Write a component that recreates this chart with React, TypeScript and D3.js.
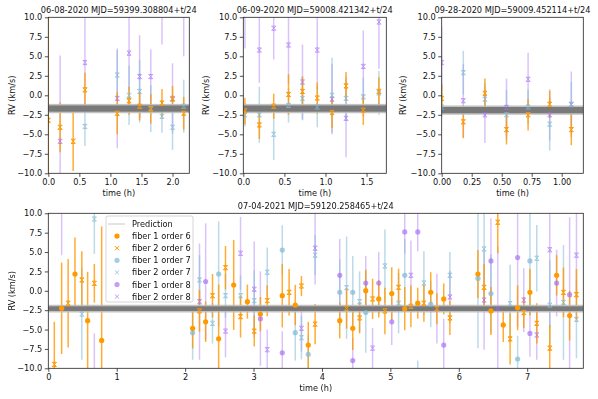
import React, { useEffect, useRef } from 'react';
import * as d3 from 'd3';

// [time (h), RV (km/s), error]
type Pt = [number, number, number];

const Y_TICKS = [-10, -7.5, -5, -2.5, 0, 2.5, 5, 7.5, 10];

// ---- 06-08-2020
const p1Title = '06-08-2020 MJD=59399.308804+t/24';
const p1XTicks = [0, 0.5, 1, 1.5, 2];
const p1Pred = -1.7;
const p1F2o6: Pt[] = [
  [0.0, -3.2, 14], [0.19, -4.1, 3.2], [0.40, -5.9, 3.8], [0.59, 0.7, 2.2], [1.11, -2.3, 2.7],
  [1.30, -0.7, 1.8], [1.47, -1.4, 1.8], [1.65, -1.75, 1.9], [1.83, -1.0, 1.8], [2.0, -0.5, 1.7], [2.18, -2.3, 2.1],
];
const p1F2o7: Pt[] = [
  [0.59, -4.0, 2.5], [1.11, 2.6, 3.2], [1.30, 0.0, 3.8], [1.47, 0.5, 4.0], [1.65, -1.7, 3.0],
  [1.83, -2.7, 2.1], [2.0, -4.1, 2.9], [2.18, -1.4, 3.4],
];
const p1F2o8: Pt[] = [
  [0.19, -5.9, 11], [0.59, 4.2, 6.5], [1.11, -0.4, 6.4], [1.30, 5.4, 4.8], [1.47, 2.4, 5.3],
  [1.65, 2.4, 3.5], [1.83, 13, 6.5], [2.0, -0.4, 4.5], [2.18, 13, 8],
];

// ---- 06-09-2020
const p2Title = '06-09-2020 MJD=59008.421342+t/24';
const p2XTicks = [0, 0.5, 1, 1.5];
const p2Pred = -1.7;
const p2F2o6: Pt[] = [
  [0.02, -2.0, 1.7], [0.195, -3.8, 1.8], [0.37, -1.4, 1.6], [0.55, 0.1, 2.6], [0.72, 0.5, 1.9],
  [0.90, -0.35, 2.0], [1.08, -2.2, 2.0], [1.25, 1.2, 1.8], [1.46, -1.9, 1.9], [1.65, 0.5, 1.8],
];
const p2F2o7: Pt[] = [
  [0.02, -2.5, 1.5], [0.195, -2.5, 3.6], [0.37, -5.0, 3.3], [0.55, -1.3, 2.2], [0.72, -0.4, 2.8],
  [0.90, -1.5, 2.6], [1.08, 0.0, 4.8], [1.25, -0.4, 2.8], [1.46, -0.2, 2.5], [1.65, 0.3, 2.8],
];
const p2F2o8: Pt[] = [
  [0.02, 12, 6], [0.195, 5.8, 4.2], [0.37, 8.6, 4.0], [0.55, 6.45, 5], [0.72, 1.7, 4.8],
  [0.90, 5.8, 5], [1.08, -0.5, 4.5], [1.25, -2.95, 5.0], [1.46, 3.7, 4.6], [1.65, 9.4, 6],
];

// ---- 09-28-2020
const p3Title = '09-28-2020 MJD=59009.452114+t/24';
const p3XTicks = [0, 0.25, 0.5, 0.75, 1];
const p3Pred = -1.9;
const p3F2o6: Pt[] = [
  [0.0, -0.4, 1.8], [0.18, -3.4, 2.1], [0.36, 0.25, 1.9], [0.54, -4.4, 1.9], [0.72, -2.5, 2.0],
  [0.90, -1.15, 1.7], [1.08, -4.4, 2.0],
];
const p3F2o7: Pt[] = [
  [0.0, -1.5, 1.3], [0.18, 2.9, 2.8], [0.36, -0.5, 2.1], [0.54, -2.5, 3.2], [0.72, -1.5, 2.2],
  [0.90, -3.7, 3.4], [1.08, -1.2, 2.9],
];
const p3F2o8: Pt[] = [
  [0.0, 4.2, 4.6], [0.18, -0.7, 4.7], [0.36, -2.5, 3.6], [0.54, -1.55, 3.7], [0.72, 2.05, 3.4],
  [0.90, -2.5, 3.3], [1.08, -1.15, 4.2],
];

// ---- 07-04-2021
const p4Title = '07-04-2021 MJD=59120.258465+t/24';
const p4XTicks = [0, 1, 2, 3, 4, 5, 6, 7];
const p4Pred = -2.3;
const p4F1o6: Pt[] = [
  [0.195, -2.26, 5.9], [0.39, 2.17, 4.7], [0.575, -3.85, 6.3], [0.78, -6.4, 14.7],
  [2.11, -4.84, 2.6], [2.30, -4.0, 2.6], [2.49, -6.2, 7], [2.71, 0.75, 5.8], [2.91, -1.4, 2.2],
  [3.10, -3.0, 2.2], [3.42, -0.63, 4.1], [3.61, -1.83, 2.6], [3.80, -7.0, 3],
  [4.26, -3.85, 2.3], [4.45, -4.84, 2.8], [4.64, 0.02, 2.7], [4.83, -1.05, 2.4], [5.02, -0.36, 3.4],
  [5.21, -2.3, 2.8], [5.40, -1.6, 2.0], [5.59, -0.2, 2.6], [5.78, -1.05, 2.0],
  [6.28, 2.17, 3.1], [6.47, -2.6, 3.1], [6.65, -4.4, 2.2], [6.86, -2.2, 2.9], [7.04, -0.2, 3.0],
  [7.43, 2.0, 2.6], [7.62, -3.2, 3.2],
];
const p4F2o6: Pt[] = [
  [0.088, -9.5, 5.5], [0.29, -1.6, 5.7], [0.49, 1.4, 3.7], [0.673, 0.97, 2.5],
  [2.21, -2.6, 2.7], [2.40, -0.63, 2.8], [2.59, 2.98, 2.8], [2.81, -3.34, 2.7], [3.01, -5.2, 2.0],
  [3.20, -1.27, 2.0], [3.52, -0.2, 3.0], [3.70, 0.62, 1.3], [3.90, -4.3, 2.6],
  [4.36, -2.26, 2.6], [4.55, -3.5, 2.0], [4.74, -1.05, 2.6], [4.92, -2.6, 3.0], [5.12, 0.45, 2.4],
  [5.30, -2.0, 2.7], [5.49, -1.6, 2.4], [5.68, -2.3, 2.0], [5.87, -3.5, 2.2],
  [6.37, 0.45, 3.0], [6.57, 8.84, 4.0], [6.75, -6.2, 3.3], [6.95, -2.8, 2.0], [7.14, -4.2, 2.6],
  [7.33, -7.4, 3.0], [7.53, -0.2, 3.2], [7.72, -0.5, 3.3],
];
const p4F1o7: Pt[] = [
  [2.11, -5.4, 3.5], [2.49, 2.17, 6.8], [3.42, 5.26, 3.2], [3.61, -5.4, 3.6], [3.80, -8.2, 2.5],
  [4.26, -0.2, 4.3], [4.45, -0.2, 4.7], [4.64, -2.8, 5.2], [5.21, 2.0, 4.7], [5.40, -12, 3],
  [5.59, -1.7, 3.0], [6.28, 1.6, 9], [6.47, -0.36, 5.1], [6.86, -8.8, 3], [7.04, 3.85, 6.8],
];
const p4F2o7: Pt[] = [
  [0.49, -3.0, 5.9], [0.673, 9.26, 4.5], [2.21, 1.4, 3.2], [2.40, -4.2, 2.6], [2.59, -0.63, 2.8],
  [2.81, -0.63, 2.6], [3.01, -1.27, 3.9], [3.20, 2.4, 3.2], [3.70, -6.05, 2.8], [3.90, 4.6, 2.6],
  [4.36, 0.4, 6.6], [4.55, -1.4, 3.9], [4.92, 3.2, 4.7], [5.12, -1.6, 3.9], [5.49, 1.0, 4.1],
  [5.87, 2.0, 3.0], [6.37, 5.4, 7.3], [6.75, -1.65, 5], [7.14, 4.2, 4.3], [7.33, -1.85, 5.8],
  [7.53, -1.5, 7.4], [7.72, -3.7, 5],
];
const p4F1o8: Pt[] = [
  [2.30, 1.2, 7.5], [3.10, -3.6, 6.1], [3.42, -8.0, 2.8], [4.26, 2.0, 4.7], [4.45, -9.0, 2.9],
  [4.64, 1.0, 3.5], [4.83, 1.0, 4.0], [5.02, -4.0, 3.0], [5.21, 7.6, 2.8], [5.40, 7.6, 2.5],
  [5.78, -7.0, 3.4], [6.47, 3.85, 5.5], [6.86, 4.3, 9], [7.04, -5.5, 3], [7.43, 1.0, 4.3],
  [7.62, -0.5, 10],
];
const p4F2o8: Pt[] = [
  [0.195, 12, 7.4], [0.673, -12, 6.5], [2.21, -1.4, 7.5], [2.59, -5.2, 3.4], [2.81, 4.84, 4.7],
  [3.01, 0.2, 6.2], [3.20, -7.6, 2.6], [3.70, -4.84, 3.0], [3.90, 5.5, 4.7], [4.74, -7.4, 2.6],
  [5.30, 2.0, 4.5], [5.68, -2.3, 4.5], [5.87, -0.8, 3.4], [6.37, -1.2, 6.4], [6.57, -2.3, 8],
  [6.95, -1.2, 4.1], [7.14, -5.7, 3.2], [7.33, 5.3, 10], [7.72, 4.6, 5.5],
];

const LEGEND_LABELS = [
  'Prediction', 'fiber 1 order 6', 'fiber 2 order 6', 'fiber 1 order 7',
  'fiber 2 order 7', 'fiber 1 order 8', 'fiber 2 order 8',
];

const STYLE: Record<string, { color: string; bar: number; mark: number }> = {
  o6: { color: '#ff9900', bar: 0.8, mark: 1 },
  o7: { color: '#86bcd8', bar: 0.55, mark: 0.75 },
  o8: { color: '#a56cf5', bar: 0.4, mark: 0.65 },
};

type Series = { order: string; fiber: number; data: Pt[] };

const PANELS = [
  {
    title: p1Title, xTicks: p1XTicks, fmt: '.1f', xMax: 2.27, pred: p1Pred,
    box: [48.3, 17.3, 189.3, 173.3], ylabX: 12,
    series: [
      { order: 'o8', fiber: 2, data: p1F2o8 },
      { order: 'o7', fiber: 2, data: p1F2o7 },
      { order: 'o6', fiber: 2, data: p1F2o6 },
    ] as Series[],
  },
  {
    title: p2Title, xTicks: p2XTicks, fmt: '.1f', xMax: 1.74, pred: p2Pred,
    box: [243.3, 17.3, 386.3, 173.3], ylabX: 206,
    series: [
      { order: 'o8', fiber: 2, data: p2F2o8 },
      { order: 'o7', fiber: 2, data: p2F2o7 },
      { order: 'o6', fiber: 2, data: p2F2o6 },
    ] as Series[],
  },
  {
    title: p3Title, xTicks: p3XTicks, fmt: '.2f', xMax: 1.18, pred: p3Pred,
    box: [441.7, 17.3, 583.3, 173.3], ylabX: 403,
    series: [
      { order: 'o8', fiber: 2, data: p3F2o8 },
      { order: 'o7', fiber: 2, data: p3F2o7 },
      { order: 'o6', fiber: 2, data: p3F2o6 },
    ] as Series[],
  },
  {
    title: p4Title, xTicks: p4XTicks, fmt: 'd', xMax: 7.82, pred: p4Pred,
    box: [48.3, 213.3, 583.3, 368.3], ylabX: 12,
    series: [
      { order: 'o8', fiber: 1, data: p4F1o8 },
      { order: 'o8', fiber: 2, data: p4F2o8 },
      { order: 'o7', fiber: 1, data: p4F1o7 },
      { order: 'o7', fiber: 2, data: p4F2o7 },
      { order: 'o6', fiber: 1, data: p4F1o6 },
      { order: 'o6', fiber: 2, data: p4F2o6 },
    ] as Series[],
    legend: true,
  },
];

const FONT = 'DejaVu Sans';
const FS = 8.2;

function xMarker(s: number) {
  return `M${-s},${-s}L${s},${s}M${-s},${s}L${s},${-s}M${-s},${-s}H${s}M${-s},${s}H${s}`;
}

export default function App() {
  const svgRef = useRef<SVGSVGElement>(null);

  useEffect(() => {
    const svg = d3.select(svgRef.current);
    svg.selectAll('*').remove();
    svg.append('rect').attr('width', 598).attr('height', 399).attr('fill', '#fff');

    PANELS.forEach((p, pi) => {
      const [x0, y0, x1, y1] = p.box;
      const x = d3.scaleLinear().domain([0, p.xMax]).range([x0, x1]);
      const y = d3.scaleLinear().domain([-10, 10]).range([y1, y0]);
      const g = svg.append('g');

      const clipId = `clip${pi}`;
      g.append('clipPath').attr('id', clipId)
        .append('rect').attr('x', x0).attr('y', y0).attr('width', x1 - x0).attr('height', y1 - y0);

      const plot = g.append('g').attr('clip-path', `url(#${clipId})`);

      // error bars
      p.series.forEach(s => {
        const st = STYLE[s.order];
        plot.append('g').selectAll('line').data(s.data).join('line')
          .attr('x1', d => x(d[0])).attr('x2', d => x(d[0]))
          .attr('y1', d => y(d[1] - d[2])).attr('y2', d => y(d[1] + d[2]))
          .attr('stroke', st.color).attr('stroke-width', 1.5).attr('opacity', st.bar);
      });

      // prediction band
      const outer = pi === 3 ? 0.5 : 0.6;
      const inner = pi === 3 ? 0.3 : 0.4;
      plot.append('rect')
        .attr('x', x0).attr('width', x1 - x0)
        .attr('y', y(p.pred + outer)).attr('height', y(p.pred - outer) - y(p.pred + outer))
        .attr('fill', '#bdbdbd').attr('opacity', 0.9);
      plot.append('rect')
        .attr('x', x0).attr('width', x1 - x0)
        .attr('y', y(p.pred + inner)).attr('height', y(p.pred - inner) - y(p.pred + inner))
        .attr('fill', '#7a7a7a');

      // markers
      p.series.forEach(s => {
        const st = STYLE[s.order];
        const mg = plot.append('g').attr('opacity', st.mark);
        if (s.fiber === 1) {
          mg.selectAll('circle').data(s.data).join('circle')
            .attr('cx', d => x(d[0])).attr('cy', d => y(d[1])).attr('r', 2.6)
            .attr('fill', st.color);
        } else {
          mg.selectAll('path').data(s.data).join('path')
            .attr('transform', d => `translate(${x(d[0])},${y(d[1])})`)
            .attr('d', xMarker(2.1))
            .attr('fill', 'none').attr('stroke', st.color).attr('stroke-width', 1);
        }
      });

      // axes
      const fmt = d3.format(p.fmt);
      const xAxis = g.append('g').attr('transform', `translate(0,${y1})`)
        .call(d3.axisBottom(x).tickValues(p.xTicks).tickFormat(d => fmt(d as number)).tickSize(3.5).tickPadding(2.5));
      const yAxis = g.append('g').attr('transform', `translate(${x0},0)`)
        .call(d3.axisLeft(y).tickValues(Y_TICKS).tickFormat(d => d3.format('.1f')(d as number)).tickSize(3.5).tickPadding(2.5));
      [xAxis, yAxis].forEach(a => {
        a.select('.domain').remove();
        a.selectAll('line').attr('stroke', '#222').attr('stroke-width', 0.8);
        a.selectAll('text').attr('font-family', FONT).attr('font-size', FS).attr('fill', '#111');
      });

      g.append('rect').attr('x', x0).attr('y', y0).attr('width', x1 - x0).attr('height', y1 - y0)
        .attr('fill', 'none').attr('stroke', '#222').attr('stroke-width', 0.8);

      g.append('text').attr('x', (x0 + x1) / 2).attr('y', y0 - 4)
        .attr('text-anchor', 'middle').attr('font-family', FONT).attr('font-size', FS).attr('fill', '#111')
        .text(p.title);
      g.append('text').attr('x', (x0 + x1) / 2).attr('y', y1 + 22.5)
        .attr('text-anchor', 'middle').attr('font-family', FONT).attr('font-size', FS).attr('fill', '#111')
        .text('time (h)');
      g.append('text')
        .attr('transform', `translate(${p.ylabX + 3},${(y0 + y1) / 2}) rotate(-90)`)
        .attr('text-anchor', 'middle').attr('font-family', FONT).attr('font-size', FS).attr('fill', '#111')
        .text('RV (km/s)');

      if (p.legend) {
        const lx = 106, ly = 216;
        const lg = g.append('g');
        lg.append('rect').attr('x', lx).attr('y', ly).attr('width', 87).attr('height', 86)
          .attr('rx', 2).attr('fill', '#fff').attr('fill-opacity', 0.8)
          .attr('stroke', '#ccc').attr('stroke-width', 0.8);
        const keys = [null, ['o6', 1], ['o6', 2], ['o7', 1], ['o7', 2], ['o8', 1], ['o8', 2]];
        LEGEND_LABELS.forEach((lab, i) => {
          const cy = ly + 8 + i * 12.1;
          const k = keys[i] as [string, number] | null;
          if (!k) {
            lg.append('line').attr('x1', lx + 2).attr('x2', lx + 19).attr('y1', cy).attr('y2', cy)
              .attr('stroke', '#c8c8c8').attr('stroke-width', 1);
          } else {
            const st = STYLE[k[0]];
            if (k[1] === 1) {
              lg.append('circle').attr('cx', lx + 11).attr('cy', cy).attr('r', 2.6)
                .attr('fill', st.color).attr('opacity', st.mark);
            } else {
              lg.append('path').attr('transform', `translate(${lx + 11},${cy})`)
                .attr('d', `M-2.1,-2.1L2.1,2.1M-2.1,2.1L2.1,-2.1`)
                .attr('fill', 'none').attr('stroke', st.color).attr('stroke-width', 1).attr('opacity', st.mark);
            }
          }
          lg.append('text').attr('x', lx + 26).attr('y', cy + 3)
            .attr('font-family', FONT).attr('font-size', FS).attr('fill', '#111').text(lab);
        });
      }
    });
  }, []);

  return (
    <div style={{ position: 'absolute', left: 0, top: 0 }}>
      <svg ref={svgRef} width={598} height={399} style={{ display: 'block' }} />
    </div>
  );
}
